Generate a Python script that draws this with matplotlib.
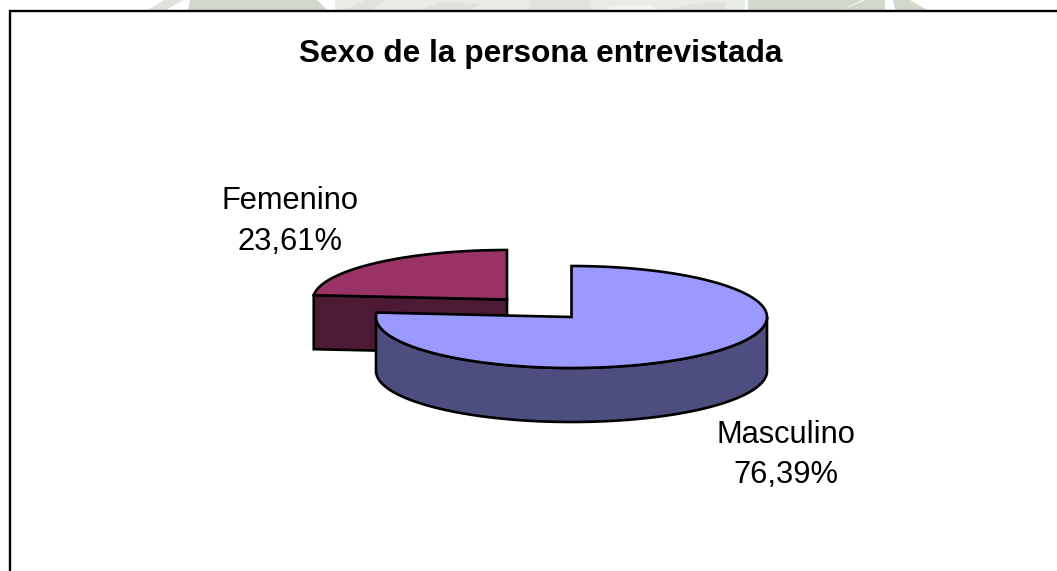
import numpy as np
import matplotlib
matplotlib.use("Agg")
import matplotlib.pyplot as plt
from matplotlib.patches import Polygon

# Data
categories = ["Masculino", "Femenino"]
percent_values = [76.39, 23.61]
percent_labels = ["76,39%", "23,61%"]
title_text = "Sexo de la persona entrevistada"

# Style
top_colors = ["#9999FF", "#993366"]
side_colors = ["#4D4D80", "#4D1A33"]
EDGE = "#000000"
LW = 1.9
WM_DARK = "#D1D8CC"
WM_LIGHT = "#E9EBE6"
WM_MID = "#E0E3DC"
plt.rcParams["font.family"] = ["Liberation Sans", "DejaVu Sans"]

W, H = 1057, 571
fig = plt.figure(figsize=(W / 100, H / 100), dpi=100, facecolor="white")
ax = fig.add_axes([0, 0, 1, 1])
ax.set_xlim(0, W)
ax.set_ylim(H, 0)
ax.axis("off")

# Faint watermark peeking out above the chart frame
watermark = [
    ([(148, 10), (166, 10), (184, 0), (164, 0)], WM_MID),
    ([(188, 10), (327, 10), (317, 0), (190, 0)], WM_DARK),
    ([(335, 10), (745, 10), (745, 0), (335, 0)], WM_LIGHT),
    ([(345, 10), (370, 10), (385, 0), (365, 0)], WM_MID),
    ([(420, 10), (470, 10), (480, 4), (440, 2)], WM_MID),
    ([(530, 10), (590, 10), (590, 0), (530, 0)], WM_MID),
    ([(600, 10), (660, 10), (650, 5), (620, 5)], "#F3F4F1"),
    ([(668, 10), (725, 10), (725, 2), (690, 4)], WM_MID),
    ([(748, 10), (843, 10), (862, 0), (748, 0)], WM_DARK),
    ([(843, 10), (885, 10), (885, 0), (865, 0)], WM_DARK),
    ([(895, 10), (927, 10), (910, 0), (893, 0)], WM_DARK),
]
for pts, col in watermark:
    ax.add_patch(Polygon(pts, closed=True, fc=col, ec="none", zorder=1))

# Frame (left and top only are visible in the crop)
ax.plot([9.5, 9.5, W], [H, 10.5, 10.5], color="black", lw=1.7, solid_joinstyle="miter", zorder=2)


def arc(cx, cy, rx, ry, t0, t1, dy=0):
    t = np.radians(np.linspace(t0, t1, 240))
    return np.column_stack([cx + rx * np.cos(t), cy + dy - ry * np.sin(t)])


# Pie angles measured clockwise from 12 o'clock
fractions = np.array(percent_values) / sum(percent_values)
start_m, end_m = 90.0, 90.0 - 360.0 * fractions[0]

depth = 54
# Femenino slice (behind, exploded)
fx, fy, frx, fry = 507, 299.5, 194, 49.5
t_f = end_m + 360  # angle of the cut edge on the left
edge_pt = arc(fx, fy, frx, fry, t_f, t_f, 0)[0]
front = np.array([[fx, fy], edge_pt, edge_pt + [0, depth], [fx, fy + depth]])
ax.add_patch(Polygon(front, closed=True, fc=side_colors[1], ec=EDGE, lw=LW, joinstyle="miter", zorder=3))
top_f = np.vstack([[fx, fy], arc(fx, fy, frx, fry, 90, t_f)])
ax.add_patch(Polygon(top_f, closed=True, fc=top_colors[1], ec=EDGE, lw=LW, joinstyle="miter", zorder=4))

# Masculino slice (front)
mx, my, mrx, mry = 571.5, 317, 195.5, 51
side = np.vstack([arc(mx, my, mrx, mry, 0, -180), arc(mx, my, mrx, mry, -180, 0, depth)])
ax.add_patch(Polygon(side, closed=True, fc=side_colors[0], ec=EDGE, lw=LW, joinstyle="miter", zorder=5))
top_m = np.vstack([[mx, my], arc(mx, my, mrx, mry, start_m, end_m)])
ax.add_patch(Polygon(top_m, closed=True, fc=top_colors[0], ec=EDGE, lw=LW, joinstyle="miter", zorder=6))

# Text
ax.text(541, 62, title_text, ha="center", va="baseline", fontsize=22.8, fontweight="bold", color="black", zorder=7)
label_spots = [(786, 443, 483), (290, 209, 250)]
for name, pct, (lx, y1, y2) in zip(categories, percent_labels, label_spots):
    ax.text(lx, y1, name, ha="center", va="baseline", fontsize=22.2, color="black", zorder=7)
    ax.text(lx, y2, pct, ha="center", va="baseline", fontsize=22.2, color="black", zorder=7)

fig.savefig("out.png", dpi=100, facecolor="white")
